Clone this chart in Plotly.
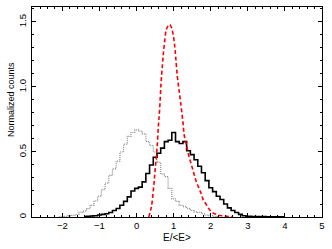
import plotly.graph_objects as go

# Solid black histogram (bin centres, normalized counts)
solid_x = [-1.4, -1.3, -1.2, -1.1, -1.0, -0.9, -0.8, -0.7, -0.6, -0.5, -0.4, -0.3, -0.2, -0.1,
           0.0, 0.1, 0.2, 0.3, 0.4, 0.5, 0.6, 0.7, 0.8, 0.9, 1.0, 1.1, 1.2, 1.3, 1.4, 1.5,
           1.6, 1.7, 1.8, 1.9, 2.0, 2.1, 2.2, 2.3, 2.4, 2.5, 2.6, 2.7, 2.8, 2.9, 3.0, 3.2,
           3.4, 3.6, 3.8, 4.0]
solid_y = [0.003, 0.005, 0.008, 0.01, 0.015, 0.02, 0.025, 0.035, 0.05, 0.065, 0.09, 0.12, 0.155, 0.2,
           0.22, 0.23, 0.27, 0.335, 0.40, 0.46, 0.49, 0.53, 0.58, 0.59, 0.65, 0.58, 0.565, 0.58, 0.51, 0.48,
           0.44, 0.39, 0.34, 0.28, 0.225, 0.195, 0.16, 0.135, 0.10, 0.07, 0.05, 0.035, 0.02, 0.01, 0.006, 0.004,
           0.003, 0.002, 0.002, 0.001]

# Dotted grey histogram
dot_x = [-2.1, -2.0, -1.9, -1.8, -1.7, -1.6, -1.5, -1.4, -1.3, -1.2, -1.1, -1.0, -0.9, -0.8, -0.7,
         -0.6, -0.5, -0.4, -0.3, -0.2, -0.1, 0.0, 0.1, 0.2, 0.3, 0.4, 0.5, 0.6, 0.7, 0.8, 0.9,
         1.0, 1.1, 1.2, 1.3, 1.4, 1.5, 1.6, 1.7, 1.8, 1.9, 2.0, 2.1, 2.2]
dot_y = [0.002, 0.003, 0.005, 0.008, 0.012, 0.02, 0.035, 0.045, 0.065, 0.09, 0.125, 0.16, 0.21, 0.26, 0.32,
         0.37, 0.43, 0.50, 0.56, 0.62, 0.65, 0.67, 0.66, 0.64, 0.58, 0.55, 0.50, 0.42, 0.33, 0.31, 0.22,
         0.14, 0.12, 0.09, 0.08, 0.065, 0.05, 0.04, 0.035, 0.025, 0.015, 0.01, 0.005, 0.003]

# Red dashed model curve
red_x = [0.33, 0.40, 0.46, 0.50, 0.55, 0.59, 0.62, 0.66, 0.70, 0.73, 0.77, 0.80, 0.85, 0.89, 0.92,
         0.95, 1.00, 1.04, 1.10, 1.18, 1.25, 1.29, 1.35, 1.40, 1.47, 1.54, 1.60, 1.67, 1.74, 1.80,
         1.87, 1.94, 2.00, 2.07, 2.20, 2.30, 2.43, 2.60]
red_y = [0.0, 0.08, 0.23, 0.36, 0.52, 0.71, 0.82, 1.03, 1.18, 1.28, 1.38, 1.44, 1.47, 1.48, 1.47,
         1.45, 1.38, 1.28, 1.08, 0.90, 0.73, 0.62, 0.55, 0.48, 0.41, 0.34, 0.28, 0.23, 0.18, 0.13,
         0.10, 0.067, 0.045, 0.03, 0.015, 0.009, 0.005, 0.002]

x_ticks = [-2, -1, 0, 1, 2, 3, 4, 5]
y_ticks = [0, 0.5, 1.0, 1.5]
y_tick_labels = ["0", "0.5", "1.0", "1.5"]
x_title = "E/&lt;E&gt;"
y_title = "Normalized counts"

fig = go.Figure()
fig.add_trace(go.Scatter(x=dot_x, y=dot_y, mode="lines", line_shape="hvh",
                         line=dict(color="#8a8a8a", width=1.2, dash="1px,1px")))
fig.add_trace(go.Scatter(x=solid_x, y=solid_y, mode="lines", line_shape="hvh",
                         line=dict(color="black", width=1.6)))
fig.add_trace(go.Scatter(x=red_x, y=red_y, mode="lines", line_shape="spline",
                         line=dict(color="red", width=1.6, dash="4px,2.5px")))

font = dict(family="Liberation Sans, Arial, sans-serif", size=10, color="black")
fig.update_layout(
    width=332, height=249,
    margin=dict(l=32, r=10, t=7, b=32, autoexpand=False),
    paper_bgcolor="white", plot_bgcolor="white",
    showlegend=False, font=font,
    xaxis=dict(range=[-2.82, 5.0001], tickvals=x_ticks, ticks="inside", ticklen=4,
               tickcolor="black", showline=True, linecolor="black", linewidth=1,
               mirror="allticks", showgrid=False, zeroline=False, automargin=False,
               tickfont=dict(size=9.5), ticklabelstandoff=0,
               minor=dict(dtick=0.2, tick0=0, ticks="inside", ticklen=2, tickcolor="black", showgrid=False)),
    yaxis=dict(range=[0, 1.615], tickvals=y_ticks, ticktext=y_tick_labels, tickangle=-90,
               ticks="inside", ticklen=4, tickcolor="black", showline=True, linecolor="black",
               linewidth=1, mirror="allticks", showgrid=False, zeroline=False, automargin=False,
               tickfont=dict(size=9.5), ticklabelstandoff=1,
               minor=dict(dtick=0.1, tick0=0, ticks="inside", ticklen=2, tickcolor="black", showgrid=False)),
    annotations=[
        dict(text=x_title, xref="paper", yref="paper", x=0.5, y=-0.097, xanchor="center",
             yanchor="middle", showarrow=False, font=dict(size=10)),
        dict(text=y_title, xref="paper", yref="y", x=-0.072, y=0.9, xanchor="center",
             yanchor="middle", textangle=-90, showarrow=False, font=dict(size=9)),
    ],
)

fig.write_html("out.html", config={"displayModeBar": False},
               post_script="document.body.style.margin='0';document.body.style.overflow='hidden';")
